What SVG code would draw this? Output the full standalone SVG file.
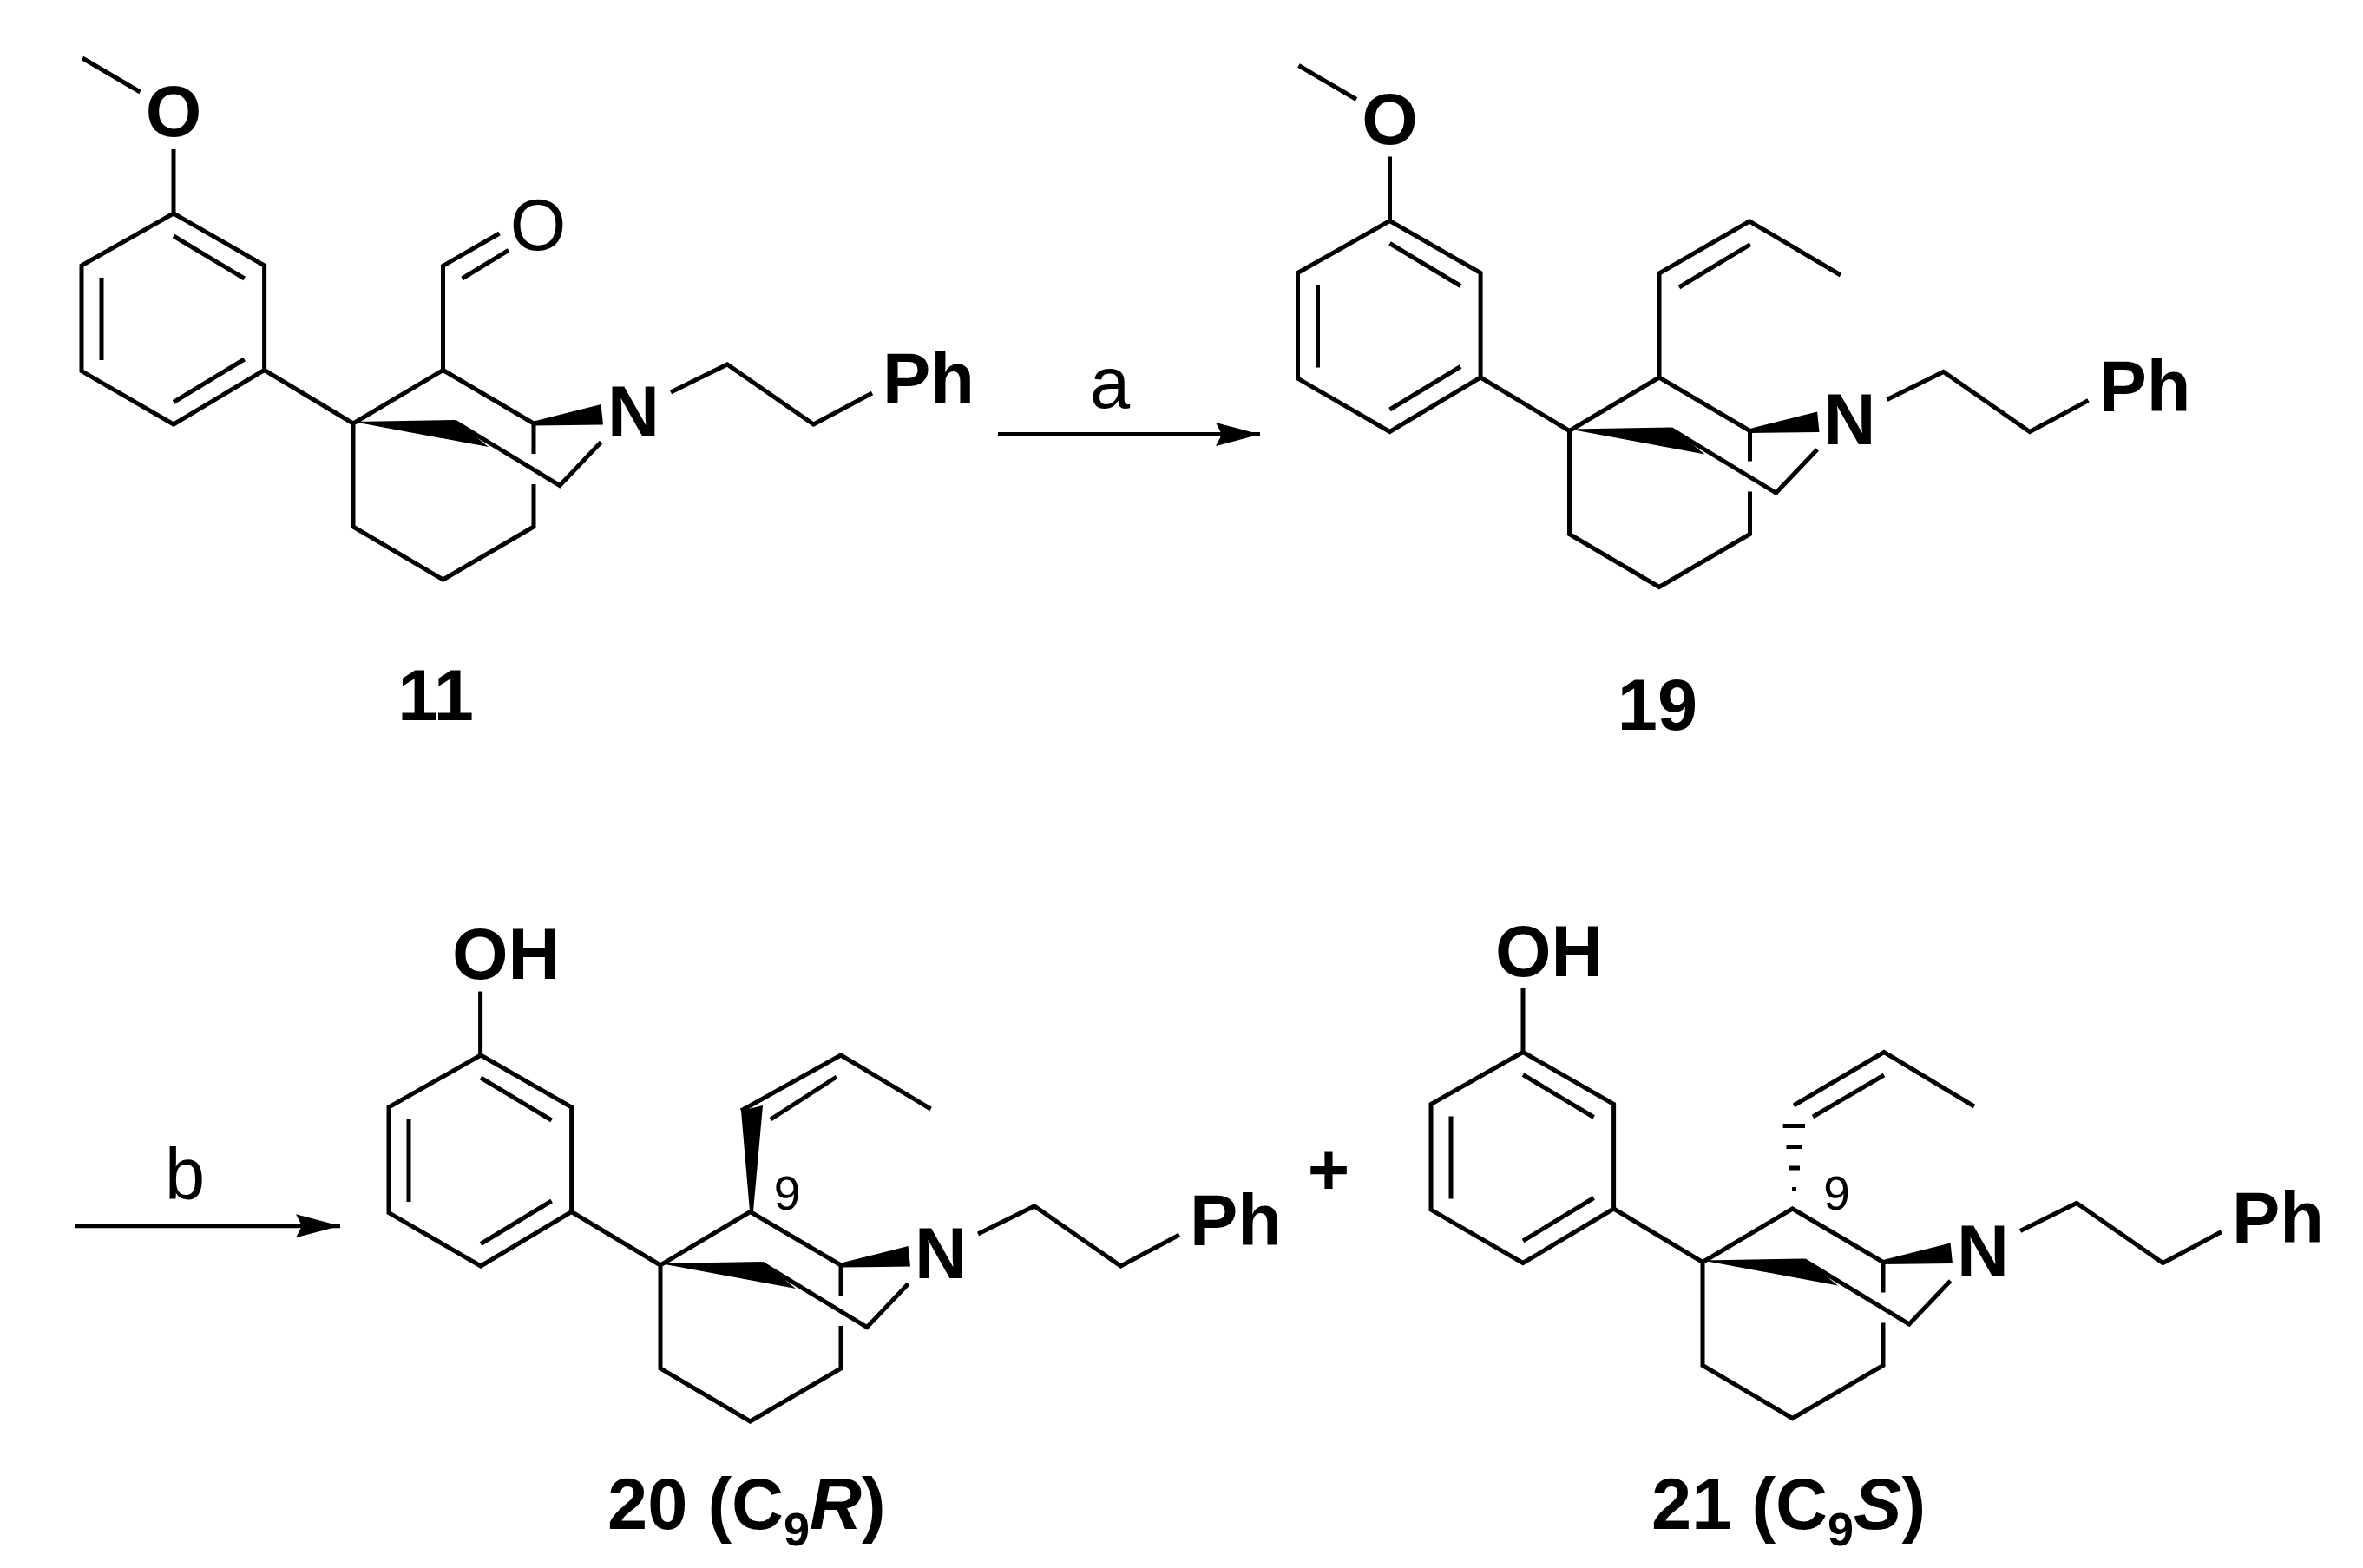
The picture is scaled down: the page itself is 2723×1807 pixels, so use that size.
<svg xmlns="http://www.w3.org/2000/svg" xmlns:xlink="http://www.w3.org/1999/xlink" width="2723" height="1807" viewBox="0 0 2723 1807">
<style>
.b{fill:none;stroke:#000;stroke-width:5;stroke-linejoin:miter;stroke-linecap:butt}
.w{fill:#000;stroke:none}
text{font-family:"Liberation Sans",Arial,Helvetica,sans-serif;fill:#000}
.a{font-size:83px;font-weight:700}
.m{text-anchor:middle}
.r{font-size:83px;font-weight:400}
.n{font-size:55px;font-weight:400;text-anchor:middle}
.s{font-size:54px}
.i{font-style:italic}
</style>
<defs>
<marker id="arrow" markerUnits="userSpaceOnUse" markerWidth="52" markerHeight="28" refX="51" refY="14" orient="auto"><path d="M51 14L0 0.5L7 14L0 27.5Z" fill="#000"/></marker>
<g id="core">
<path class="b" d="M200 246L304.6 306V426.5L200 489L94 427.6V306Z"/>
<path class="b" d="M200 272L281.6 321M117 320V415M200 463.5L281.6 414"/>
<path class="b" d="M304.6 426.5L407 488L510.5 426.5L615 488V523M615 558V607L510.5 668L407 607V488"/>
<path class="w" d="M407 486L524 484L563 515Z"/>
<path class="w" d="M615 485.5L692.6 466L695 489.5L615 490.5Z"/>
<path class="b" d="M524 486L645 559.5L692.6 509.5"/>
<path class="b" d="M773 452L838 420L937.5 489L1005 453"/>
</g>
</defs>
<rect width="2723" height="1807" fill="#fff"/>
<g id="connectors">
<path id="arrow-a" class="b" d="M1150 500.6H1452" marker-end="url(#arrow)"/>
<path id="arrow-b" class="b" d="M87 1412.8H392" marker-end="url(#arrow)"/>
</g>
<g id="compound-11">
<use href="#core" xlink:href="#core"/>
<path class="b" d="M95 67L161.5 106M200 172V246"/>
<path class="b" d="M510.5 426.5V306.4L575.5 269M532.6 321L586 288.4"/>
<text class="a m" x="200" y="157">O</text>
<text class="r m" x="620" y="288">O</text>
<text class="a m" x="730" y="503">N</text>
<text class="a" x="1017" y="465">Ph</text>
<text class="a m" x="502" y="830">11</text>
</g>
<g id="reagent-a"><text class="r m" x="1279" y="470">a</text></g>
<g id="compound-19">
<use href="#core" xlink:href="#core" x="1401.5" y="8.5"/>
<path class="b" d="M1496.5 75.5L1563 114.5M1601.5 180.5V254.5"/>
<path class="b" d="M1912 435V315L2016 255L2121 317M1935 331L2017 281.7"/>
<text class="a m" x="1601.5" y="165.5">O</text>
<text class="a m" x="2131.5" y="511.5">N</text>
<text class="a" x="2418.5" y="473.5">Ph</text>
<text class="a m" x="1910" y="841">19</text>
</g>
<g id="reagent-b"><text class="r m" x="213" y="1382">b</text></g>
<g id="compound-20">
<use href="#core" xlink:href="#core" x="354" y="970"/>
<path class="b" d="M553.6 1142.5V1216"/>
<path class="w" d="M864 1396L854 1280L879 1274L868 1396Z"/>
<path class="b" d="M854 1280L969 1216L1072.6 1278M888 1290L964 1241"/>
<text class="a" x="521" y="1128">OH</text>
<text class="a m" x="1084" y="1473">N</text>
<text class="a" x="1371" y="1435">Ph</text>
<text class="n" x="907" y="1394">9</text>
<text class="a" x="700" y="1762">20 (C<tspan class="s" dy="19">9</tspan><tspan class="i" dy="-19">R</tspan>)</text>
</g>
<g id="plus"><text class="a m" x="1531" y="1377">+</text></g>
<g id="compound-21">
<use href="#core" xlink:href="#core" x="1555" y="966.5"/>
<path class="b" d="M1755 1139V1212.5"/>
<path class="w" d="M2054.6 1295H2080V1300H2054.6ZM2058.5 1319H2077V1324H2058.5ZM2061.6 1343.5H2074V1348.5H2061.6ZM2065 1368H2070V1373H2065Z"/>
<path class="b" d="M2067 1274L2171 1212.5L2275 1275M2089 1287L2171 1239"/>
<text class="a" x="1723" y="1125">OH</text>
<text class="a m" x="2285" y="1469.5">N</text>
<text class="a" x="2572" y="1431.5">Ph</text>
<text class="n" x="2116.5" y="1394">9</text>
<text class="a" x="1903" y="1762">21 (C<tspan class="s" dy="19">9</tspan><tspan class="i" dy="-19">S</tspan>)</text>
</g>
</svg>
